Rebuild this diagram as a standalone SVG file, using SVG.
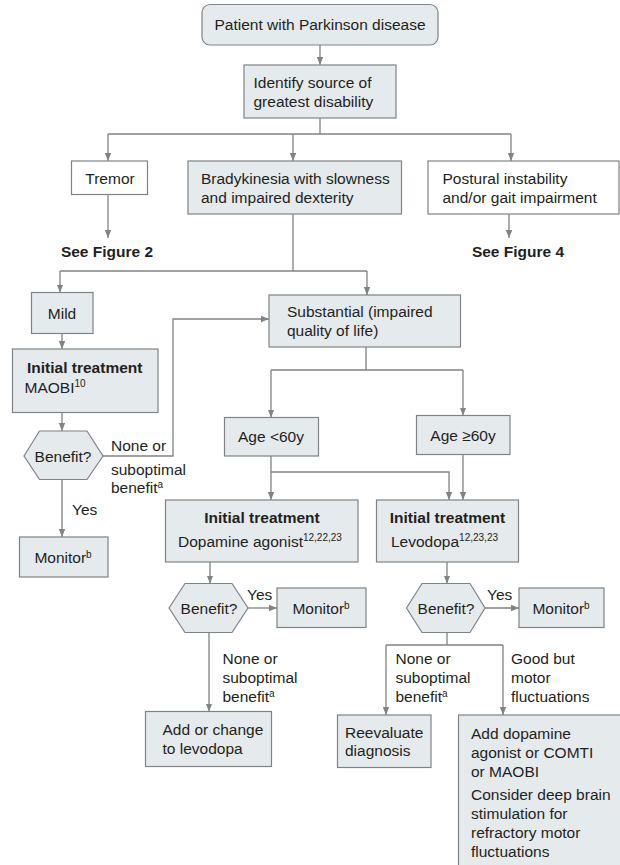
<svg xmlns="http://www.w3.org/2000/svg" width="620" height="865" viewBox="0 0 620 865">
<defs>
<style>
.b{fill:#e5eaed;stroke:#808285;stroke-width:1.2}
.w{fill:#ffffff;stroke:#808285;stroke-width:1.2}
text{font-family:"Liberation Sans",Arial,sans-serif;font-size:15.5px;fill:#231f20}
.bd{font-weight:bold}
.c{text-anchor:middle}
.sup{font-size:10px}
.ln{fill:none;stroke:#808285;stroke-width:1.3}
.ar{fill:none;stroke:#808285;stroke-width:1.3;marker-end:url(#ah)}
</style>
<marker id="ah" viewBox="0 0 10 10" refX="10" refY="5" markerWidth="8" markerHeight="8" orient="auto" markerUnits="userSpaceOnUse">
<path d="M0,1 L10,5 L0,9 z" fill="#808285"/>
</marker>
</defs>
<rect width="620" height="865" fill="#ffffff"/>

<g id="connectors">
<path class="ar" d="M320,45 V65"/>
<path class="ln" d="M320,118 V134 M108,134 H511"/>
<path class="ar" d="M108,134 V161"/>
<path class="ar" d="M293,134 V161"/>
<path class="ar" d="M511,134 V161"/>
<path class="ar" d="M108,194.5 V238"/>
<path class="ar" d="M509,214 V238"/>
<path class="ln" d="M293,214 V271 M60,271 H367"/>
<path class="ar" d="M60,271 V292.5"/>
<path class="ar" d="M367,271 V295"/>
<path class="ar" d="M62,333.5 V349"/>
<path class="ar" d="M62,412.5 V431"/>
<path class="ar" d="M103,456 H173 V319 H269"/>
<path class="ar" d="M62,479.5 V537"/>
<path class="ln" d="M366,347 V370 M271,370 H463"/>
<path class="ar" d="M271,370 V417.5"/>
<path class="ar" d="M463,370 V415.5"/>
<path class="ar" d="M271,456 V500"/>
<path class="ar" d="M271,472 H449 V500"/>
<path class="ar" d="M463,454.5 V500"/>
<path class="ar" d="M210,562 V583.5"/>
<path class="ar" d="M248,608 H277"/>
<path class="ar" d="M209,632.5 V711.5"/>
<path class="ar" d="M447,562 V583.5"/>
<path class="ar" d="M485,608 H519"/>
<path class="ln" d="M447,632.5 V645 M386,645 H503"/>
<path class="ar" d="M386,645 V715"/>
<path class="ar" d="M503,645 V715"/>
</g>

<g id="patient">
<rect class="b" x="202" y="4.5" width="236" height="40.5" rx="8"/>
<text class="c" x="320" y="29.5">Patient with Parkinson disease</text>
</g>

<g id="identify">
<rect class="b" x="244" y="65" width="152" height="53"/>
<text x="253.5" y="88">Identify source of</text>
<text x="253.5" y="107">greatest disability</text>
</g>

<g id="tremor">
<rect class="w" x="71.5" y="161" width="76" height="33.5"/>
<text class="c" x="110" y="184">Tremor</text>
</g>

<g id="bradykinesia">
<rect class="b" x="188" y="161" width="213.5" height="53"/>
<text x="201" y="184">Bradykinesia with slowness</text>
<text x="201" y="203">and impaired dexterity</text>
</g>

<g id="postural">
<rect class="w" x="428" y="161" width="191" height="53"/>
<text x="442.5" y="184">Postural instability</text>
<text x="442.5" y="203">and/or gait impairment</text>
</g>

<g id="see2">
<text class="c bd" x="107" y="257">See Figure 2</text>
</g>

<g id="see4">
<text class="c bd" x="518" y="257">See Figure 4</text>
</g>

<g id="mild">
<rect class="b" x="31.5" y="292.5" width="61.5" height="41"/>
<text class="c" x="62" y="319">Mild</text>
</g>

<g id="substantial">
<rect class="b" x="269" y="295" width="191.5" height="52"/>
<text x="287" y="317">Substantial (impaired</text>
<text x="287" y="336">quality of life)</text>
</g>

<g id="maobi">
<rect class="b" x="12.5" y="349" width="145.5" height="63.5"/>
<text class="bd" x="27" y="373">Initial treatment</text>
<text x="24.5" y="393">MAOBI<tspan class="sup" dy="-6">10</tspan></text>
</g>

<g id="benefit1">
<polygon class="b" points="24,456 39.5,431 87,431 103,456 87,479.5 39.5,479.5"/>
<text class="c" x="63" y="461.5">Benefit?</text>
</g>

<g id="lbl1">
<text x="111" y="451">None or</text>
<text x="111" y="474.5">suboptimal</text>
<text x="111" y="493">benefit<tspan class="sup" dy="-5">a</tspan></text>
<text x="72" y="515">Yes</text>
</g>

<g id="monitor1">
<rect class="b" x="19.5" y="537" width="88.5" height="40"/>
<text class="c" x="63" y="563">Monitor<tspan class="sup" dy="-5">b</tspan></text>
</g>

<g id="age1">
<rect class="b" x="224.5" y="417.5" width="94" height="38.5"/>
<text class="c" x="271" y="442">Age &lt;60y</text>
</g>

<g id="age2">
<rect class="b" x="416.5" y="415.5" width="93.5" height="39"/>
<text class="c" x="463" y="441">Age ≥60y</text>
</g>

<g id="dopamine">
<rect class="b" x="165.5" y="500" width="192.5" height="62"/>
<text class="c bd" x="262" y="523">Initial treatment</text>
<text x="178" y="546.5">Dopamine agonist<tspan class="sup" dy="-6">12,22,23</tspan></text>
</g>

<g id="levodopa">
<rect class="b" x="376.5" y="500" width="142" height="62"/>
<text class="c bd" x="447.5" y="523">Initial treatment</text>
<text x="391" y="546.5">Levodopa<tspan class="sup" dy="-6">12,23,23</tspan></text>
</g>

<g id="benefit2">
<polygon class="b" points="169,608 185,583.5 232,583.5 248,608 232,632.5 185,632.5"/>
<text class="c" x="209" y="613.5">Benefit?</text>
</g>

<g id="monitor2">
<rect class="b" x="277" y="588" width="89" height="39.5"/>
<text class="c" x="321" y="613.5">Monitor<tspan class="sup" dy="-5">b</tspan></text>
</g>

<g id="benefit3">
<polygon class="b" points="406.5,608 422,583.5 470,583.5 485,608 470,632.5 422,632.5"/>
<text class="c" x="446" y="613.5">Benefit?</text>
</g>

<g id="monitor3">
<rect class="b" x="519" y="588" width="85" height="39.5"/>
<text class="c" x="561" y="613.5">Monitor<tspan class="sup" dy="-5">b</tspan></text>
</g>

<g id="lbl2">
<text x="247" y="600">Yes</text>
<text x="487" y="600">Yes</text>
<text x="222.5" y="664">None or</text>
<text x="222.5" y="683">suboptimal</text>
<text x="222.5" y="702">benefit<tspan class="sup" dy="-5">a</tspan></text>
<text x="395.5" y="664">None or</text>
<text x="395.5" y="683">suboptimal</text>
<text x="395.5" y="702">benefit<tspan class="sup" dy="-5">a</tspan></text>
<text x="511" y="664">Good but</text>
<text x="511" y="683">motor</text>
<text x="511" y="702">fluctuations</text>
</g>

<g id="addchange">
<rect class="b" x="145.5" y="711.5" width="126" height="55"/>
<text x="162.5" y="734.5">Add or change</text>
<text x="162.5" y="753.5">to levodopa</text>
</g>

<g id="reevaluate">
<rect class="b" x="337.5" y="715" width="93.5" height="52.5"/>
<text x="345" y="737.5">Reevaluate</text>
<text x="345" y="756">diagnosis</text>
</g>

<g id="adddopamine">
<rect class="b" x="458.5" y="715" width="170" height="160"/>
<text x="471" y="738.5">Add dopamine</text>
<text x="471" y="757.5">agonist or COMTI</text>
<text x="471" y="776.5">or MAOBI</text>
<text x="471" y="799.5">Consider deep brain</text>
<text x="471" y="818.5">stimulation for</text>
<text x="471" y="837.5">refractory motor</text>
<text x="471" y="856.5">fluctuations</text>
</g>
</svg>
